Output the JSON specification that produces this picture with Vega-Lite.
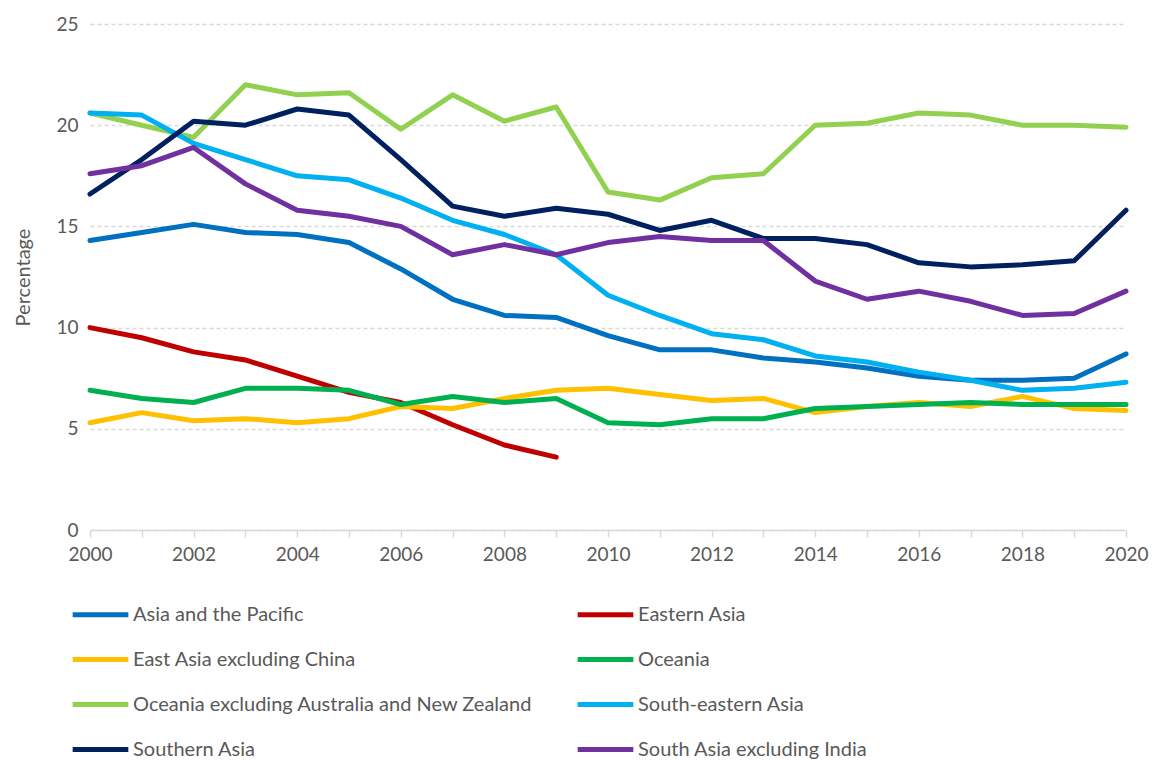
{
  "$schema": "https://vega.github.io/schema/vega-lite/v6.json",
  "width": 1036,
  "height": 506,
  "autosize": {"type": "none"},
  "padding": {"left": 90, "top": 24, "right": 27, "bottom": 230},
  "background": "white",
  "config": {
    "view": {"stroke": null},
    "font": "Lato"
  },
  "datasets": {
    "wide": [
      {"year": 2000, "a": 14.3, "b": 10.0, "c": 5.3, "d": 6.9, "e": 20.6, "f": 20.6, "g": 16.6, "h": 17.6},
      {"year": 2001, "a": 14.7, "b": 9.5, "c": 5.8, "d": 6.5, "e": 20.0, "f": 20.5, "g": 18.3, "h": 18.0},
      {"year": 2002, "a": 15.1, "b": 8.8, "c": 5.4, "d": 6.3, "e": 19.4, "f": 19.1, "g": 20.2, "h": 18.9},
      {"year": 2003, "a": 14.7, "b": 8.4, "c": 5.5, "d": 7.0, "e": 22.0, "f": 18.3, "g": 20.0, "h": 17.1},
      {"year": 2004, "a": 14.6, "b": 7.6, "c": 5.3, "d": 7.0, "e": 21.5, "f": 17.5, "g": 20.8, "h": 15.8},
      {"year": 2005, "a": 14.2, "b": 6.8, "c": 5.5, "d": 6.9, "e": 21.6, "f": 17.3, "g": 20.5, "h": 15.5},
      {"year": 2006, "a": 12.9, "b": 6.3, "c": 6.1, "d": 6.2, "e": 19.8, "f": 16.4, "g": 18.3, "h": 15.0},
      {"year": 2007, "a": 11.4, "b": 5.2, "c": 6.0, "d": 6.6, "e": 21.5, "f": 15.3, "g": 16.0, "h": 13.6},
      {"year": 2008, "a": 10.6, "b": 4.2, "c": 6.5, "d": 6.3, "e": 20.2, "f": 14.6, "g": 15.5, "h": 14.1},
      {"year": 2009, "a": 10.5, "b": 3.6, "c": 6.9, "d": 6.5, "e": 20.9, "f": 13.6, "g": 15.9, "h": 13.6},
      {"year": 2010, "a": 9.6, "b": null, "c": 7.0, "d": 5.3, "e": 16.7, "f": 11.6, "g": 15.6, "h": 14.2},
      {"year": 2011, "a": 8.9, "b": null, "c": 6.7, "d": 5.2, "e": 16.3, "f": 10.6, "g": 14.8, "h": 14.5},
      {"year": 2012, "a": 8.9, "b": null, "c": 6.4, "d": 5.5, "e": 17.4, "f": 9.7, "g": 15.3, "h": 14.3},
      {"year": 2013, "a": 8.5, "b": null, "c": 6.5, "d": 5.5, "e": 17.6, "f": 9.4, "g": 14.4, "h": 14.3},
      {"year": 2014, "a": 8.3, "b": null, "c": 5.8, "d": 6.0, "e": 20.0, "f": 8.6, "g": 14.4, "h": 12.3},
      {"year": 2015, "a": 8.0, "b": null, "c": 6.1, "d": 6.1, "e": 20.1, "f": 8.3, "g": 14.1, "h": 11.4},
      {"year": 2016, "a": 7.6, "b": null, "c": 6.3, "d": 6.2, "e": 20.6, "f": 7.8, "g": 13.2, "h": 11.8},
      {"year": 2017, "a": 7.4, "b": null, "c": 6.1, "d": 6.3, "e": 20.5, "f": 7.4, "g": 13.0, "h": 11.3},
      {"year": 2018, "a": 7.4, "b": null, "c": 6.6, "d": 6.2, "e": 20.0, "f": 6.9, "g": 13.1, "h": 10.6},
      {"year": 2019, "a": 7.5, "b": null, "c": 6.0, "d": 6.2, "e": 20.0, "f": 7.0, "g": 13.3, "h": 10.7},
      {"year": 2020, "a": 8.7, "b": null, "c": 5.9, "d": 6.2, "e": 19.9, "f": 7.3, "g": 15.8, "h": 11.8}
    ]
  },
  "data": {"name": "wide"},
  "transform": [
    {"fold": ["a", "b", "c", "d", "e", "f", "g", "h"], "as": ["key", "value"]},
    {"filter": "datum.value != null"},
    {"lookup": "key", "from": {"data": {"values": [
      {"key": "a", "series": "Asia and the Pacific"},
      {"key": "b", "series": "Eastern Asia"},
      {"key": "c", "series": "East Asia excluding China"},
      {"key": "d", "series": "Oceania"},
      {"key": "e", "series": "Oceania excluding Australia and New Zealand"},
      {"key": "f", "series": "South-eastern Asia"},
      {"key": "g", "series": "Southern Asia"},
      {"key": "h", "series": "South Asia excluding India"}
    ]}, "key": "key", "fields": ["series"]}}
  ],
  "mark": {"type": "line", "strokeWidth": 5, "strokeJoin": "round", "strokeCap": "round"},
  "encoding": {
    "x": {
      "field": "year", "type": "quantitative",
      "scale": {"domain": [2000, 2020], "nice": false, "zero": false},
      "axis": {
        "title": null,
        "values": [2000, 2001, 2002, 2003, 2004, 2005, 2006, 2007, 2008, 2009, 2010, 2011, 2012, 2013, 2014, 2015, 2016, 2017, 2018, 2019, 2020],
        "labelExpr": "datum.value % 2 == 0 ? format(datum.value, 'd') : ''",
        "grid": false,
        "domainColor": "#d9d9d9", "domainWidth": 1.5,
        "tickColor": "#d9d9d9", "tickSize": 7, "tickWidth": 1.5,
        "labelFont": "Lato", "labelFontSize": 19, "labelColor": "#595959",
        "labelPadding": 8, "labelOverlap": false, "labelFlush": false
      }
    },
    "y": {
      "field": "value", "type": "quantitative",
      "scale": {"domain": [0, 25], "nice": false},
      "axis": {
        "title": "Percentage",
        "titleFont": "Lato", "titleFontSize": 20, "titleFontWeight": "normal", "titleColor": "#595959",
        "titlePadding": 22,
        "values": [0, 5, 10, 15, 20, 25],
        "domain": false, "ticks": false,
        "grid": true, "gridColor": "#d9d9d9", "gridDash": [4, 3], "gridWidth": 1.5,
        "labelFont": "Lato", "labelFontSize": 19, "labelColor": "#595959",
        "labelPadding": 12
      }
    },
    "color": {
      "field": "series", "type": "nominal",
      "scale": {
        "domain": ["Asia and the Pacific", "Eastern Asia", "East Asia excluding China", "Oceania", "Oceania excluding Australia and New Zealand", "South-eastern Asia", "Southern Asia", "South Asia excluding India"],
        "range": ["#0070C0", "#C00000", "#FFC000", "#00B050", "#92D050", "#00B0F0", "#002060", "#7030A0"]
      },
      "legend": {
        "title": null,
        "orient": "none",
        "legendX": -20,
        "legendY": 560,
        "columns": 2,
        "direction": "horizontal",
        "symbolType": "stroke",
        "symbolStrokeWidth": 5,
        "symbolSize": 3100,
        "labelFont": "Lato", "labelFontSize": 20, "labelColor": "#595959",
        "labelOffset": 2,
        "labelLimit": 600,
        "rowPadding": 4,
        "columnPadding": 34
      }
    }
  }
}
